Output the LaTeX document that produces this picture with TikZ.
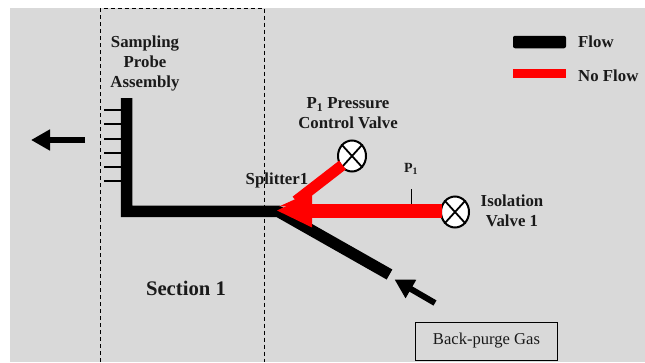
\documentclass[tikz,border=0pt]{standalone}
\usepackage{fontspec}
\setmainfont{Liberation Serif}
\usetikzlibrary{arrows.meta,shapes.geometric}
\definecolor{panel}{HTML}{D9D9D9}
\definecolor{ink}{HTML}{1A1A1A}
\tikzset{
  flowline/.style={line width=11.5pt,black},
  noflowline/.style={line width=11pt,red},
  tick/.style={line width=1.6pt,black},
  bigarrow/.style={line width=6pt,black,-{Triangle[length=19pt,width=20pt]}},
  valve/.style={draw=black,line width=2pt,fill=white,ellipse,minimum width=28pt,minimum height=31pt,inner sep=0pt},
  cross/.style={line width=1.8pt,black},
  lbl/.style={font=\bfseries\fontsize{16.8}{20}\selectfont,text=ink,align=center,inner sep=0pt},
  section/.style={draw=black,line width=0.9pt,dash pattern=on 4pt off 3pt},
}
\begin{document}
\begin{tikzpicture}[x=1pt,y=-1pt]
\useasboundingbox (0,0) rectangle (645,362);
\fill[panel] (10,8) rectangle (645,362);
% section box
\coordinate (sa) at (100.5,362);
\coordinate (sb) at (100.5,8);
\coordinate (sc) at (264,8);
\coordinate (sd) at (264,362);
\draw[section] (sa) -- (sb) -- (sc) -- (sd);
% probe ticks
\coordinate (probetop) at (126.5,98);
\coordinate (corner) at (126.5,211.3);
\coordinate (split) at (278,211.3);
\foreach \n/\y in {1/110,2/124,3/139,4/153,5/167,6/181}{
  \coordinate (tl\n) at (104,\y);
  \coordinate (tr\n) at (126,\y);
  \draw[tick] (tl\n) -- (tr\n);
}
% flow lines
\coordinate (lowerend) at (389.5,274.5);
\draw[flowline,line join=miter] (probetop) -- (corner) -- (split) -- (lowerend);
% valves
\node[valve] (pcv) at (352,156) {};
\node[valve] (iso) at (455,212) {};
\draw[cross] (pcv.north west) -- (pcv.south east);
\draw[cross] (pcv.north east) -- (pcv.south west);
\draw[cross] (iso.north west) -- (iso.south east);
\draw[cross] (iso.north east) -- (iso.south west);
% no-flow lines
\coordinate (branch) at (296,201);
\coordinate (isoend) at (442,210.5);
\coordinate (tipreal) at (276,210.5);
\draw[noflowline,line width=14pt,-{Triangle[length=36pt,width=31pt]}] (isoend) -- (tipreal);
\coordinate (pcvend) at (342.5,165);
\draw[noflowline] (pcvend) -- (branch);
\fill[red] (279,206.5) -- (300,197) -- (312,205) -- cycle;
% P1 tap
\coordinate (tapa) at (411.5,189);
\coordinate (tapb) at (411.5,203.5);
\draw[tick] (tapa) -- (tapb);
% arrows
\coordinate (outa) at (85,140);
\coordinate (outb) at (31,140);
\draw[bigarrow] (outa) -- (outb);
\coordinate (ina) at (435,303);
\coordinate (inb) at (394.5,279.5);
\draw[bigarrow] (ina) -- (inb);
% legend
\node[fill=black,rounded corners=2pt,minimum width=53pt,minimum height=12.5pt,inner sep=0pt] (legflow) at (539.5,42) {};
\node[fill=red,minimum width=53pt,minimum height=9pt,inner sep=0pt] (legno) at (539.5,73.5) {};
\node[lbl,anchor=west] (tflow) at (578,42) {Flow};
\node[lbl,anchor=west] (tno) at (578,76) {No Flow};
% labels
\node[lbl] (tprobe) at (145,63.5) {Sampling\\Probe\\Assembly};
\node[lbl] (tpcv) at (348,113.5) {P\textsubscript{1} Pressure\\Control Valve};
\node[lbl] (tsplit) at (277,180) {Splitter1};
\node[lbl] (tiso) at (512,211) {Isolation\\Valve 1};
\node[lbl,font=\bfseries\fontsize{14}{15}\selectfont] (tp) at (411,169) {P\textsubscript{1}};
\node[lbl,font=\bfseries\fontsize{20.7}{24}\selectfont] (tsec) at (186,288) {Section 1};
\node[draw=black,line width=1pt,minimum width=142.5pt,minimum height=38pt,inner sep=0pt,text=ink,font=\fontsize{16.6}{20}\selectfont] (gas) at (486.5,341) {Back-purge Gas};
\end{tikzpicture}
\end{document}
